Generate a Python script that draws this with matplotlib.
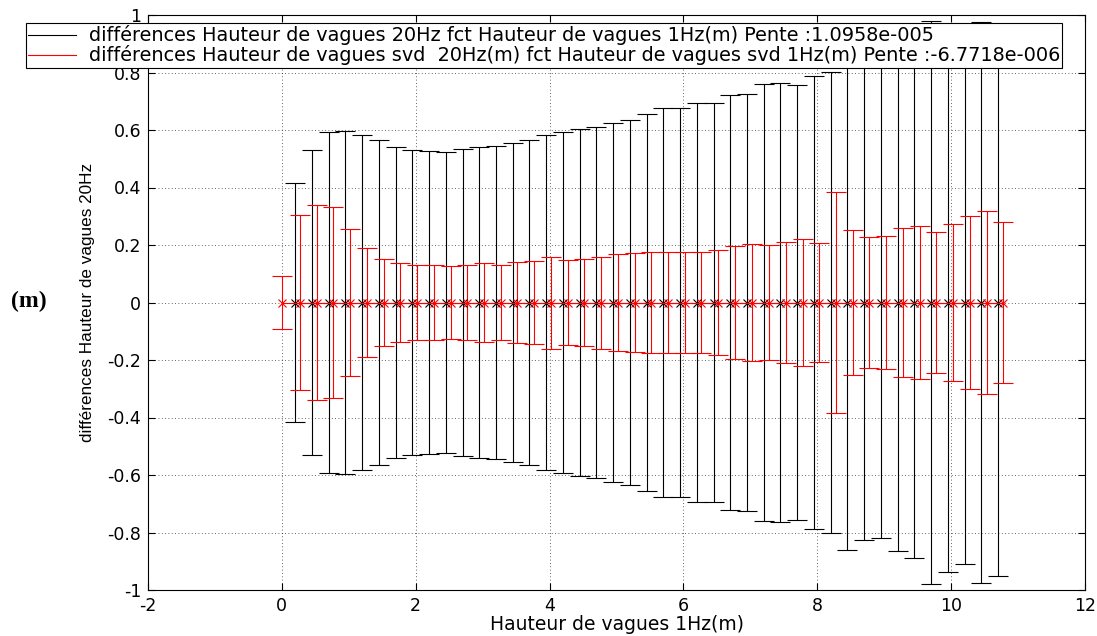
import matplotlib
matplotlib.use("Agg")
import matplotlib.pyplot as plt
from matplotlib.lines import Line2D
from matplotlib import font_manager

# ---- data ----
x_black = [0.2, 0.45, 0.7, 0.95, 1.2, 1.45, 1.7, 1.95, 2.2, 2.45, 2.7, 2.95, 3.2, 3.45,
           3.7, 3.95, 4.2, 4.45, 4.7, 4.95, 5.2, 5.45, 5.7, 5.95, 6.2, 6.45, 6.7, 6.95,
           7.2, 7.45, 7.7, 7.95, 8.2, 8.45, 8.7, 8.95, 9.2, 9.45, 9.7, 9.95, 10.2, 10.45, 10.7]
y_black = [0.0] * len(x_black)
err_black = [0.415, 0.530, 0.593, 0.597, 0.584, 0.565, 0.541, 0.529, 0.528, 0.525, 0.534,
             0.540, 0.546, 0.554, 0.564, 0.582, 0.592, 0.603, 0.612, 0.625, 0.636, 0.657,
             0.675, 0.676, 0.693, 0.694, 0.723, 0.726, 0.761, 0.765, 0.757, 0.787, 0.803,
             0.861, 0.826, 0.819, 0.864, 0.887, 0.979, 0.936, 0.909, 0.975, 0.953]

x_red = [0.0, 0.27, 0.52, 0.77, 1.02, 1.27, 1.52, 1.77, 2.02, 2.27, 2.52, 2.77, 3.02, 3.27,
         3.52, 3.77, 4.02, 4.27, 4.52, 4.77, 5.02, 5.27, 5.52, 5.77, 6.02, 6.27, 6.52, 6.77,
         7.02, 7.28, 7.53, 7.78, 8.03, 8.28, 8.53, 8.78, 9.03, 9.28, 9.53, 9.78, 10.03,
         10.28, 10.53, 10.78]
y_red = [0.0] * len(x_red)
err_red = [0.091, 0.304, 0.339, 0.332, 0.256, 0.189, 0.151, 0.138, 0.129, 0.132, 0.127,
           0.129, 0.136, 0.132, 0.141, 0.146, 0.160, 0.149, 0.153, 0.160, 0.167, 0.171,
           0.175, 0.174, 0.175, 0.175, 0.184, 0.195, 0.204, 0.201, 0.209, 0.220, 0.206,
           0.385, 0.252, 0.229, 0.230, 0.258, 0.266, 0.244, 0.272, 0.302, 0.318, 0.279]

label_black = "différences Hauteur de vagues 20Hz fct Hauteur de vagues 1Hz(m) Pente :1.0958e-005"
label_red = "différences Hauteur de vagues svd  20Hz(m) fct Hauteur de vagues svd 1Hz(m) Pente :-6.7718e-006"

x_ticks = [-2, 0, 2, 4, 6, 8, 10, 12]
x_ticklabels = ["-2", "0", "2", "4", "6", "8", "10", "12"]
y_ticks = [-1, -0.8, -0.6, -0.4, -0.2, 0, 0.2, 0.4, 0.6, 0.8, 1]
y_ticklabels = ["-1", "-0.8", "-0.6", "-0.4", "-0.2", "0", "0.2", "0.4", "0.6", "0.8", "1"]

xlabel = "Hauteur de vagues 1Hz(m)"
ylabel = "différences Hauteur de vagues 20Hz"
side_label = "(m)"

# ---- figure ----
plt.rcParams['font.family'] = ['DejaVu Sans']
installed = {f.name for f in font_manager.fontManager.ttflist}
if 'Liberation Sans Narrow' in installed:
    ylab_font, ylab_size = 'Liberation Sans Narrow', 14.5
else:
    ylab_font, ylab_size = 'Liberation Sans', 12.3

fig = plt.figure(figsize=(10.97, 6.36), dpi=100)
ax = fig.add_axes([148 / 1097, 1 - 590 / 636, 937 / 1097, 575 / 636])

ax.errorbar(x_black, y_black, yerr=err_black, color='black', ecolor='black',
            marker='x', markersize=6, markeredgewidth=0.8, linewidth=0.8,
            elinewidth=0.8, capsize=7.5, capthick=0.8)
ax.errorbar(x_red, y_red, yerr=err_red, color='red', ecolor='red',
            marker='x', markersize=6, markeredgewidth=0.8, linewidth=0.8,
            elinewidth=0.8, capsize=7.5, capthick=0.8)

ax.set_xlim(-2, 12)
ax.set_ylim(-1, 1)
ax.set_xticks(x_ticks)
ax.set_xticklabels(x_ticklabels)
ax.set_yticks(y_ticks)
ax.set_yticklabels(y_ticklabels)
ax.tick_params(direction='in', top=True, right=True, length=5, width=0.8,
               labelsize=12.5, pad=5)
ax.grid(True, linestyle=(0, (1, 3)), color='black', linewidth=0.6, alpha=0.8)
for s in ax.spines.values():
    s.set_linewidth(0.8)

ax.set_xlabel(xlabel, fontsize=13.5, labelpad=0)
ax.set_ylabel(ylabel, fontsize=ylab_size, family=ylab_font, labelpad=0)
ax.yaxis.set_label_coords((95 - 148) / 937, 0.5)
fig.text(29 / 1097, 1 - 301 / 636, side_label, fontsize=17, fontweight='bold',
         family='Liberation Serif', ha='center', va='center')

handles = [Line2D([], [], color='black', linewidth=0.8),
           Line2D([], [], color='red', linewidth=0.8)]
leg = ax.legend(handles, [label_black, label_red], loc='upper left',
                bbox_to_anchor=((26 - 148) / 937, (590 - 23) / 575),
                borderaxespad=0, fancybox=False, framealpha=1, edgecolor='black',
                fontsize=13.9, handlelength=2.45, handletextpad=0.68,
                borderpad=0.12, labelspacing=0.0)
leg.get_frame().set_linewidth(0.8)

fig.savefig("out.png", dpi=100)
